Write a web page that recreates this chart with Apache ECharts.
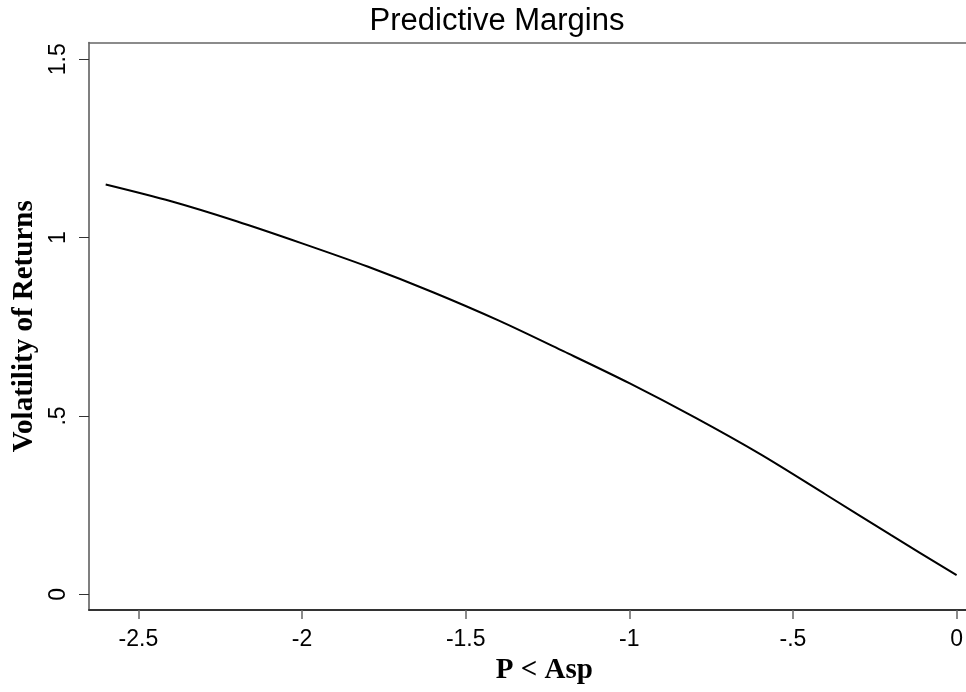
<!DOCTYPE html>
<html>
<head>
<meta charset="utf-8">
<script src="https://cdn.jsdelivr.net/npm/echarts@6/dist/echarts.min.js"></script>
<style>html,body{margin:0;padding:0;background:#fff}#c{width:966px;height:692px}</style>
</head>
<body>
<div id="c"></div>
<script>
const xValues = [-2.6, -2.4, -2.2, -2.0, -1.8, -1.6, -1.4, -1.2, -1.0, -0.8, -0.6, -0.4, -0.2, 0.0];
const yValues = [1.149, 1.102, 1.046, 0.984, 0.919, 0.847, 0.768, 0.681, 0.592, 0.496, 0.393, 0.280, 0.166, 0.054];
const xTickValues = [-2.5, -2, -1.5, -1, -0.5, 0];
const xTickLabels = ["-2.5", "-2", "-1.5", "-1", "-.5", "0"];
const yTickValues = [0, 0.5, 1, 1.5];
const yTickLabels = ["0", ".5", "1", "1.5"];
const titleText = "Predictive Margins";
const xTitle = "P < Asp";
const yTitle = "Volatility of Returns";

function lbl(vals, labs) {
  return function (v) {
    for (let i = 0; i < vals.length; i++) if (Math.abs(vals[i] - v) < 1e-9) return labs[i];
    return '';
  };
}

const chart = echarts.init(document.getElementById('c'), null, {renderer: 'canvas'});
chart.setOption({
  animation: false,
  backgroundColor: '#fff',
  title: {
    text: titleText, left: 492, top: 1, textAlign: 'center',
    textStyle: {fontFamily: 'Liberation Sans', fontWeight: 'normal', fontSize: 31, color: '#000'}
  },
  grid: {left: 89, right: 0, top: 42.5, bottom: 82, containLabel: false},
  xAxis: [{
    type: 'value', min: -2.651, max: 0.028,
    name: xTitle, nameLocation: 'middle', nameGap: 40,
    nameTextStyle: {fontFamily: 'Liberation Serif', fontWeight: 'bold', fontSize: 29, color: '#000', padding: [0, 0, 0, 34]},
    axisLine: {show: true, onZero: false, lineStyle: {color: '#333', width: 2}},
    axisTick: {show: true, length: 9, lineStyle: {color: '#666', width: 1.5}, customValues: xTickValues},
    axisLabel: {show: true, margin: 18, fontFamily: 'Liberation Sans', fontSize: 23, color: '#000',
      customValues: xTickValues, formatter: lbl(xTickValues, xTickLabels)},
    splitLine: {show: false}
  }, {
    type: 'value', position: 'top', min: -2.651, max: 0.028,
    axisLine: {show: true, onZero: false, lineStyle: {color: '#666', width: 1.5}},
    axisTick: {show: false}, axisLabel: {show: false}, splitLine: {show: false}
  }],
  yAxis: {
    type: 'value', min: -0.0437, max: 1.547, position: 'left',
    name: yTitle, nameLocation: 'middle', nameGap: 47,
    nameTextStyle: {fontFamily: 'Liberation Serif', fontWeight: 'bold', fontSize: 29, color: '#000'},
    axisLine: {show: true, onZero: false, lineStyle: {color: '#555', width: 1.5}},
    axisTick: {show: true, length: 10, lineStyle: {color: '#333', width: 1}, customValues: yTickValues},
    axisLabel: {show: true, rotate: 90, margin: 19, fontFamily: 'Liberation Sans', fontSize: 23, color: '#000',
      customValues: yTickValues, formatter: lbl(yTickValues, yTickLabels)},
    splitLine: {show: false}
  },
  series: [{
    type: 'line', xAxisIndex: 0,
    data: xValues.map((x, i) => [x, yValues[i]]),
    smooth: 0.3, showSymbol: false, symbol: 'none',
    lineStyle: {color: '#000', width: 2}
  }]
});
</script>
</body>
</html>
